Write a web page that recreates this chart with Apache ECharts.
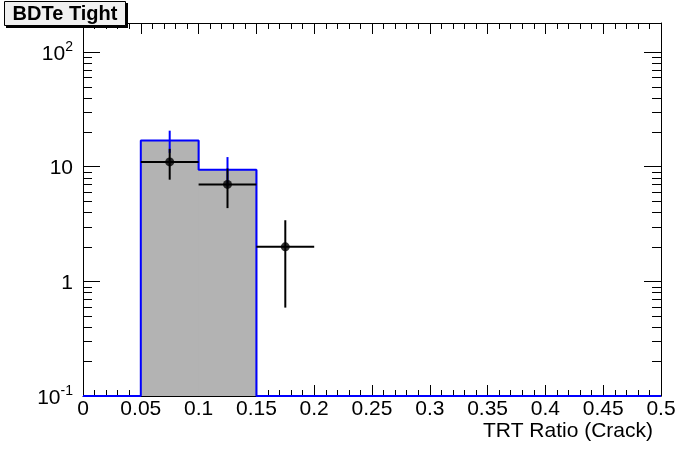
<!DOCTYPE html>
<html>
<head>
<meta charset="utf-8">
<script src="https://cdn.jsdelivr.net/npm/echarts@6/dist/echarts.min.js"></script>
<style>
html,body{margin:0;padding:0;background:#fff;}
#chart{width:696px;height:472px;}
</style>
</head>
<body>
<div id="chart"></div>
<script>
// ---- data ----
var binEdges = [0, 0.05, 0.1, 0.15, 0.2, 0.25, 0.3, 0.35, 0.4, 0.45, 0.5];
var mcValues = [0, 16.9, 9.42, 0, 0, 0, 0, 0, 0, 0];
var mcErrors = [0, 3.7, 2.7, 0, 0, 0, 0, 0, 0, 0];
var dataValues = [0, 11, 7, 2, 0, 0, 0, 0, 0, 0];
var dataErrors = [0, 3.3, 2.65, 1.41, 0, 0, 0, 0, 0, 0];
var xTicks = [0, 0.05, 0.1, 0.15, 0.2, 0.25, 0.3, 0.35, 0.4, 0.45, 0.5];
var yMajorTicks = [0.1, 1, 10, 100];
var yMinorTicks = [0.2,0.3,0.4,0.5,0.6,0.7,0.8,0.9,2,3,4,5,6,7,8,9,20,30,40,50,60,70,80,90];
var yMin = 0.1, yMax = 179;
var titleText = 'BDTe Tight';
var xTitle = 'TRT Ratio (Crack)';

var FONT = '"Liberation Sans", Arial, Helvetica, sans-serif';

function clampY(v){ return v > yMin ? v : yMin; }

var histData = [];
for (var i = 0; i < mcValues.length; i++) {
  if (mcValues[i] > 0) histData.push([binEdges[i], binEdges[i+1], mcValues[i]]);
}
var outline = [];
for (var i = 0; i < mcValues.length; i++) {
  outline.push([binEdges[i], clampY(mcValues[i])]);
  outline.push([binEdges[i+1], clampY(mcValues[i])]);
}
var mcErrData = [];
for (var i = 0; i < mcValues.length; i++) {
  if (mcValues[i] > 0) mcErrData.push([(binEdges[i]+binEdges[i+1])/2, mcValues[i]-mcErrors[i], mcValues[i]+mcErrors[i]]);
}
var dataPts = [], dataErr = [];
for (var i = 0; i < dataValues.length; i++) {
  if (dataValues[i] > 0) {
    var c = (binEdges[i]+binEdges[i+1])/2;
    dataPts.push([c, dataValues[i]]);
    dataErr.push([c, dataValues[i], Math.max(dataValues[i]-dataErrors[i], yMin), dataValues[i]+dataErrors[i], binEdges[i], binEdges[i+1]]);
  }
}

var chart = echarts.init(document.getElementById('chart'), null, {renderer:'canvas'});

function xLabel(v){
  for (var k = 0; k < xTicks.length; k++) if (Math.abs(xTicks[k]-v) < 1e-9) return String(xTicks[k]);
  return '';
}
function yLabel(v){
  for (var k = 0; k < yMajorTicks.length; k++) {
    if (Math.abs(yMajorTicks[k]-v)/v < 1e-6) {
      var e = Math.round(Math.log10(v));
      if (e === 0) return '{b|1}';
      if (e === 1) return '{b|10}';
      return '{b|10}{s|' + e + '}';
    }
  }
  return '';
}

var xAxisCommon = {
  type: 'value', min: 0, max: 0.5, interval: 0.05,
  splitLine: {show:false},
  axisLine: {show:true, onZero:false, lineStyle:{color:'#000', width:1}},
  axisTick: {show:true, inside:true, length:11, lineStyle:{color:'#000', width:1}},
  minorTick: {show:true, splitNumber:5, length:6, lineStyle:{color:'#000', width:1}}
};

var option = {
  backgroundColor: '#fff',
  animation: false,
  grid: {left:83, right:35, top:23, bottom:76, containLabel:false},
  xAxis: [
    Object.assign({}, xAxisCommon, {
      position:'bottom',
      axisLabel: {show:true, margin:3, fontSize:21, color:'#000', fontFamily:FONT, formatter:xLabel,
                  showMinLabel:true, showMaxLabel:true},
      name: xTitle, nameLocation:'end', nameGap:-8,
      nameTextStyle: {fontSize:21, color:'#000', fontFamily:FONT, align:'right', verticalAlign:'top', padding:[25,0,0,0]}
    }),
    Object.assign({}, xAxisCommon, {position:'top', axisLabel:{show:false}})
  ],
  yAxis: [
    {
      type:'log', logBase:10, min:yMin, max:yMax, position:'left',
      splitLine:{show:false},
      axisLine:{show:true, onZero:false, lineStyle:{color:'#000', width:1}},
      axisTick:{show:true, inside:true, length:17, lineStyle:{color:'#000', width:1}},
      minorTick:{show:false},
      axisLabel:{show:true, margin:10, color:'#000', fontFamily:FONT, fontSize:21, formatter:yLabel,
                 showMaxLabel:false,
                 rich:{ b:{fontSize:21, fontFamily:FONT, color:'#000', padding:[4,0,0,0]},
                        s:{fontSize:14, fontFamily:FONT, color:'#000', padding:[0,0,9,0]} }}
    },
    {
      type:'log', logBase:10, min:yMin, max:yMax, position:'right',
      splitLine:{show:false},
      axisLine:{show:true, onZero:false, lineStyle:{color:'#000', width:1}},
      axisTick:{show:true, inside:true, length:17, lineStyle:{color:'#000', width:1}},
      minorTick:{show:false},
      axisLabel:{show:false}
    }
  ],
  graphic: [
    {type:'rect', shape:{x:6, y:3, width:122, height:25}, style:{fill:'#000'}, z:100},
    {type:'rect', shape:{x:4.5, y:1.5, width:121, height:24}, style:{fill:'#f0f0f0', stroke:'#000', lineWidth:1}, z:101},
    {type:'text', x:65, y:14, style:{text:titleText, font:'bold 20px ' + FONT, fill:'#000', align:'center', verticalAlign:'middle'}, z:102}
  ],
  series: [
    {
      type:'custom', xAxisIndex:0, yAxisIndex:0, z:2,
      data: histData,
      renderItem: function(params, api){
        var p0 = api.coord([api.value(0), api.value(2)]);
        var p1 = api.coord([api.value(1), yMin]);
        return {type:'rect', shape:{x:p0[0], y:p0[1], width:p1[0]-p0[0]+1, height:p1[1]-p0[1]},
                style:{fill:'#b3b3b3'}};
      }
    },
    {
      type:'line', xAxisIndex:0, yAxisIndex:0, z:3,
      data: outline, showSymbol:false, symbol:'none',
      lineStyle:{color:'#0000ff', width:2}, clip:false
    },
    {
      type:'custom', xAxisIndex:0, yAxisIndex:0, z:4,
      data: mcErrData,
      renderItem: function(params, api){
        var a = api.coord([api.value(0), api.value(1)]);
        var b = api.coord([api.value(0), api.value(2)]);
        return {type:'line', shape:{x1:a[0], y1:a[1], x2:b[0], y2:b[1]}, style:{stroke:'#0000ff', lineWidth:2}};
      }
    },
    {
      type:'custom', xAxisIndex:0, yAxisIndex:0, z:5,
      data: dataErr,
      renderItem: function(params, api){
        var lo = api.coord([api.value(0), api.value(2)]);
        var hi = api.coord([api.value(0), api.value(3)]);
        var l = api.coord([api.value(4), api.value(1)]);
        var r = api.coord([api.value(5), api.value(1)]);
        return {type:'group', children:[
          {type:'line', shape:{x1:lo[0], y1:lo[1], x2:hi[0], y2:hi[1]}, style:{stroke:'#000', lineWidth:2}},
          {type:'line', shape:{x1:l[0], y1:l[1], x2:r[0], y2:r[1]}, style:{stroke:'#000', lineWidth:2}}
        ]};
      }
    },
    {
      type:'scatter', xAxisIndex:0, yAxisIndex:0, z:6,
      data: dataPts, symbol:'circle', symbolSize:9,
      itemStyle:{color:'#000'}
    },
    {
      type:'custom', xAxisIndex:0, yAxisIndex:0, z:7, clip:false, silent:true,
      data: yMinorTicks.filter(function(v){return v < yMax;}).map(function(v){return [0, v];}),
      renderItem: function(params, api){
        var L = api.coord([0, api.value(1)]);
        var R = api.coord([0.5, api.value(1)]);
        var y = Math.round(L[1]) + 0.5;
        return {type:'group', children:[
          {type:'line', shape:{x1:L[0], y1:y, x2:L[0]+9, y2:y}, style:{stroke:'#000', lineWidth:1}},
          {type:'line', shape:{x1:R[0]-9, y1:y, x2:R[0], y2:y}, style:{stroke:'#000', lineWidth:1}}
        ]};
      }
    }
  ]
};
chart.setOption(option);
</script>
</body>
</html>
